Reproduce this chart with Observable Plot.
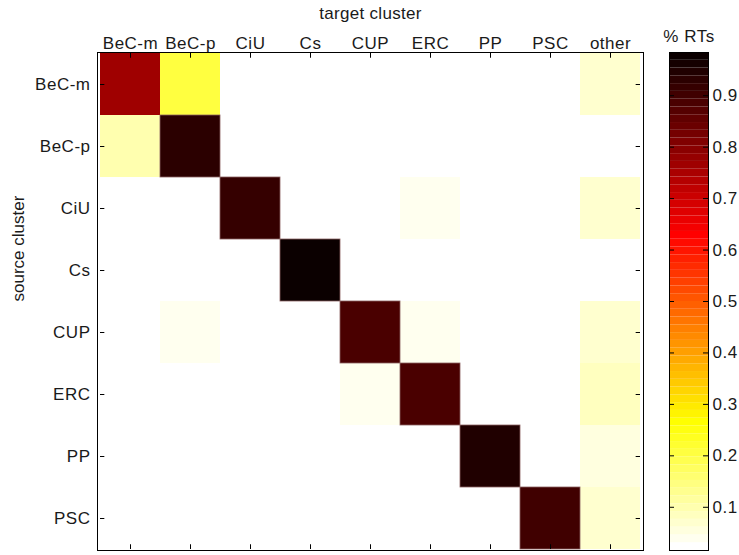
<!DOCTYPE html>
<html><head><meta charset="utf-8">
<script src="https://cdn.jsdelivr.net/npm/d3@7"></script>
<script src="https://cdn.jsdelivr.net/npm/@observablehq/plot@0.6"></script>
<style>
html,body{margin:0;padding:0;background:#fff;}
#wrap{position:relative;width:739px;height:555px;}
#wrap svg{position:absolute;left:0;top:0;}
</style></head><body><div id="wrap"></div>
<script>
// ---- data ----
const sources = ["BeC-m","BeC-p","CiU","Cs","CUP","ERC","PP","PSC"];
const targets = ["BeC-m","BeC-p","CiU","Cs","CUP","ERC","PP","PSC","other"];
const rowBeCm = [0.764, 0.199, 0, 0, 0, 0, 0, 0, 0.069];
const rowBeCp = [0.103, 0.926, 0, 0, 0, 0, 0, 0, 0];
const rowCiU  = [0, 0, 0.922, 0, 0, 0.039, 0, 0, 0.069];
const rowCs   = [0, 0, 0, 0.980, 0, 0, 0, 0, 0];
const rowCUP  = [0, 0.039, 0, 0, 0.892, 0.039, 0, 0, 0.070];
const rowERC  = [0, 0, 0, 0, 0.039, 0.892, 0, 0, 0.084];
const rowPP   = [0, 0, 0, 0, 0, 0, 0.940, 0.020, 0.054];
const rowPSC  = [0, 0, 0, 0, 0, 0, 0.020, 0.905, 0.069];
const matrix = [rowBeCm, rowBeCp, rowCiU, rowCs, rowCUP, rowERC, rowPP, rowPSC];
const colorbarTicks = [0.1, 0.2, 0.3, 0.4, 0.5, 0.6, 0.7, 0.8, 0.9];
const cLow = 0.016, cHigh = 0.984;

// reversed MATLAB "hot" colormap, 64 levels (0 -> white, 1 -> black)
function hotRev(t) {
  const n = 64;
  let j = Math.floor(t * n);
  j = Math.max(0, Math.min(n - 1, j));
  const k = n - j;
  const r = Math.min(1, k / 24);
  const g = Math.max(0, Math.min(1, (k - 24) / 24));
  const b = Math.max(0, Math.min(1, (k - 48) / 16));
  return `rgb(${Math.round(r*255)},${Math.round(g*255)},${Math.round(b*255)})`;
}
const colorScale = {type: "linear", domain: [cLow, cHigh], interpolate: hotRev};

const data = sources.flatMap((s, i) => targets.map((t, j) => ({source: s, target: t, value: matrix[i][j]})));

const W = 739, H = 555;
const mL = 97, mR = W - 643, mT = 52, mB = H - 550;
const colW = (W - mL - mR) / targets.length;
const rowH = (H - mT - mB) / sources.length;
const font = "'Liberation Sans', Arial, Helvetica, sans-serif";
const ink = "#1a1a1a";

const main = Plot.plot({
  width: W, height: H,
  marginLeft: mL, marginRight: mR, marginTop: mT, marginBottom: mB,
  style: {fontFamily: font, background: "transparent", overflow: "visible"},
  x: {domain: targets, padding: 0, axis: null},
  y: {domain: sources, padding: 0, axis: null},
  color: colorScale,
  marks: [
    Plot.cell(data, {x: "target", y: "source", fill: "value", inset: 0}),
    Plot.cell(data.filter(d => d.value > 0.85), {x: "target", y: "source", fill: "none", stroke: "#8a6060", strokeWidth: 0.8, inset: 0}),
    Plot.frame({stroke: "#000", strokeWidth: 1}),
    Plot.tickX(targets, {x: d => d, y: () => sources[0], insetBottom: rowH - 5, stroke: "#000"}),
    Plot.tickX(targets, {x: d => d, y: () => sources[sources.length - 1], insetTop: rowH - 5, stroke: "#000"}),
    Plot.tickY(sources, {y: d => d, x: () => targets[0], insetRight: colW - 5, stroke: "#000"}),
    Plot.tickY(sources, {y: d => d, x: () => targets[targets.length - 1], insetLeft: colW - 5, stroke: "#000"}),
    Plot.text(targets, {x: d => d, text: d => d, frameAnchor: "top", dy: -4, lineAnchor: "bottom", fontSize: 17, fill: ink}),
    Plot.text(sources, {y: d => d, text: d => d, frameAnchor: "left", dx: -7, textAnchor: "end", fontSize: 17, fill: ink}),
    Plot.text(["target cluster"], {text: d => d, frameAnchor: "top", dy: -34, lineAnchor: "bottom", fontSize: 17, fill: ink}),
    Plot.text(["source cluster"], {text: d => d, frameAnchor: "left", dx: -74, rotate: -90, lineAnchor: "bottom", fontSize: 17, fill: ink})
  ]
});

const cbBands = d3.range(64).map(i => ({
  y1: cLow + i * (cHigh - cLow) / 64,
  y2: cLow + (i + 1) * (cHigh - cLow) / 64
}));

const cb = Plot.plot({
  width: W, height: H,
  marginLeft: 669, marginRight: W - 708, marginTop: mT, marginBottom: mB,
  style: {fontFamily: font, background: "transparent", overflow: "visible"},
  x: {domain: [0, 1], axis: null},
  y: {domain: [cLow, cHigh], axis: null},
  color: colorScale,
  marks: [
    Plot.rect(cbBands, {x1: 0, x2: 1, y1: "y1", y2: "y2", fill: d => (d.y1 + d.y2) / 2}),
    Plot.frame({stroke: "#000", strokeWidth: 1}),
    Plot.tickY(colorbarTicks, {y: d => d, insetRight: 34, stroke: "#000"}),
    Plot.tickY(colorbarTicks, {y: d => d, insetLeft: 34, stroke: "#000"}),
    Plot.text(colorbarTicks, {y: d => d, text: d => String(d), frameAnchor: "right", dx: 4, textAnchor: "start", fontSize: 17, fill: ink}),
    Plot.text(["% RTs"], {text: d => d, frameAnchor: "top", dy: -11, lineAnchor: "bottom", fontSize: 17, fill: ink})
  ]
});

// letter spacing to mimic the original rendering
const mainTexts = main.querySelectorAll("g[aria-label='text']");
[0, 1].forEach(i => { if (mainTexts[i]) mainTexts[i].setAttribute("letter-spacing", "0.5"); });
[2].forEach(i => { if (mainTexts[i]) mainTexts[i].setAttribute("letter-spacing", "0.3"); });
cb.querySelectorAll("g[aria-label='text']").forEach(g => g.setAttribute("letter-spacing", "0.5"));

const wrap = document.getElementById("wrap");
wrap.appendChild(main);
wrap.appendChild(cb);
</script>
</body></html>
